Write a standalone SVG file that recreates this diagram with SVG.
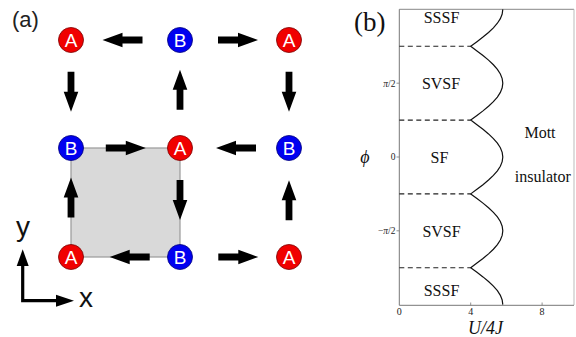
<svg xmlns="http://www.w3.org/2000/svg" xmlns:xlink="http://www.w3.org/1999/xlink" width="576" height="337" viewBox="0 0 576 337">
<style>
.na{fill:#f00000;stroke:#7a0000;stroke-width:0.8}
.nb{fill:#0000f0;stroke:#00007a;stroke-width:0.8}
.lt{font-family:"Liberation Sans",Arial,sans-serif;font-size:19px;fill:#fff;text-anchor:middle}
.ph{font-family:"Liberation Serif","Times New Roman",serif;font-size:16px;fill:#111;text-anchor:middle}
.tk{font-family:"Liberation Serif","Times New Roman",serif;font-size:10px;fill:#222;text-anchor:middle}
.tkl{font-family:"Liberation Serif","Times New Roman",serif;font-size:9.5px;fill:#222;text-anchor:end}
</style>
<defs>
<path id="arr" d="M-20,-3.4 L0,-3.4 L0,-7.3 L20,0 L0,7.3 L0,3.4 L-20,3.4 Z" fill="#000"/>
</defs>
<rect width="576" height="337" fill="#fff"/>
<text x="12" y="27" font-family="Liberation Sans,Arial,sans-serif" font-size="22" fill="#222">(a)</text>
<rect x="71" y="148" width="109" height="109" fill="#d9d9d9" stroke="#999" stroke-width="1.2"/>
<g id="connectors">
<use xlink:href="#arr" transform="translate(122.5,40) rotate(180)"/>
<use xlink:href="#arr" transform="translate(238,40)"/>
<use xlink:href="#arr" transform="translate(71,91.7) rotate(90)"/>
<use xlink:href="#arr" transform="translate(180,89.7) rotate(-90)"/>
<use xlink:href="#arr" transform="translate(289,91.7) rotate(90)"/>
<use xlink:href="#arr" transform="translate(125.8,148)"/>
<use xlink:href="#arr" transform="translate(236,148) rotate(180)"/>
<use xlink:href="#arr" transform="translate(71,197.5) rotate(-90)"/>
<use xlink:href="#arr" transform="translate(180,200) rotate(90)"/>
<use xlink:href="#arr" transform="translate(289,200.3) rotate(-90)"/>
<use xlink:href="#arr" transform="translate(129.7,257) rotate(180)"/>
<use xlink:href="#arr" transform="translate(238.3,257)"/>
</g>
<g id="n1"><circle class="na" cx="71" cy="40" r="12.5"/><text class="lt" x="71" y="46.8">A</text></g>
<g id="n2"><circle class="nb" cx="180" cy="40" r="12.5"/><text class="lt" x="180" y="46.8">B</text></g>
<g id="n3"><circle class="na" cx="289" cy="40" r="12.5"/><text class="lt" x="289" y="46.8">A</text></g>
<g id="n4"><circle class="nb" cx="71" cy="148" r="12.5"/><text class="lt" x="71" y="154.8">B</text></g>
<g id="n5"><circle class="na" cx="180" cy="148" r="12.5"/><text class="lt" x="180" y="154.8">A</text></g>
<g id="n6"><circle class="nb" cx="289" cy="148" r="12.5"/><text class="lt" x="289" y="154.8">B</text></g>
<g id="n7"><circle class="na" cx="71" cy="257" r="12.5"/><text class="lt" x="71" y="263.8">A</text></g>
<g id="n8"><circle class="nb" cx="180" cy="257" r="12.5"/><text class="lt" x="180" y="263.8">B</text></g>
<g id="n9"><circle class="na" cx="289" cy="257" r="12.5"/><text class="lt" x="289" y="263.8">A</text></g>
<g id="axes">
<path d="M22.7,264 L22.7,300.7 L58,300.7" fill="none" stroke="#000" stroke-width="3.2"/>
<polygon points="22.7,249.3 16.7,266 28.7,266" fill="#000"/>
<polygon points="74,300.7 56,294.7 56,306.7" fill="#000"/>
<text x="23" y="236" font-family="Liberation Sans,Arial,sans-serif" font-size="28" fill="#111" text-anchor="middle">y</text>
<text x="86" y="307" font-family="Liberation Sans,Arial,sans-serif" font-size="28" fill="#111" text-anchor="middle">x</text>
</g>
<text x="354" y="31" font-family="Liberation Serif,Times New Roman,serif" font-size="27" fill="#111">(b)</text>
<line x1="399.3" y1="9.3" x2="574" y2="9.3" stroke="#888" stroke-width="1"/>
<line x1="574" y1="9.3" x2="574" y2="305" stroke="#bbb" stroke-width="1"/>
<line x1="399.3" y1="9.3" x2="399.3" y2="305.3" stroke="#777" stroke-width="1"/>
<line x1="399.3" y1="305.3" x2="574" y2="305.3" stroke="#777" stroke-width="1"/>
<g stroke="#777" stroke-width="0.8">
<line x1="396.5" y1="83.2" x2="399.3" y2="83.2"/>
<line x1="396.5" y1="157" x2="399.3" y2="157"/>
<line x1="396.5" y1="230.8" x2="399.3" y2="230.8"/>
<line x1="470.7" y1="305.3" x2="470.7" y2="302.5"/>
<line x1="542.1" y1="305.3" x2="542.1" y2="302.5"/>
</g>
<text class="tkl" x="395.5" y="86.5"><tspan font-style="italic">π</tspan>/2</text>
<text class="tkl" x="395.5" y="160.3">0</text>
<text class="tkl" x="395.5" y="234">−<tspan font-style="italic">π</tspan>/2</text>
<text class="tk" x="399.3" y="315">0</text>
<text class="tk" x="470.7" y="315">4</text>
<text class="tk" x="542.1" y="315">8</text>
<text x="365" y="163" font-family="Liberation Serif,Times New Roman,serif" font-size="18" font-style="italic" fill="#111" text-anchor="middle">ϕ</text>
<text x="485.5" y="334" font-family="Liberation Serif,Times New Roman,serif" font-size="18" font-style="italic" fill="#111" text-anchor="middle">U/4J</text>
<g stroke="#222" stroke-width="1.1" stroke-dasharray="5,3.5">
<line x1="399.3" y1="46.3" x2="470.7" y2="46.3"/>
<line x1="399.3" y1="120.1" x2="470.7" y2="120.1"/>
<line x1="399.3" y1="193.9" x2="470.7" y2="193.9"/>
<line x1="399.3" y1="267.7" x2="470.7" y2="267.7"/>
</g>
<path fill="none" stroke="#111" stroke-width="1.2" d="M502.8,9.4 L502.18,14.01 L500.36,18.62 L497.39,23.24 L493.4,27.85 L488.53,32.46 L482.98,37.07 L476.96,41.68 L470.7,46.3 L476.96,50.91 L482.98,55.52 L488.53,60.13 L493.4,64.74 L497.39,69.36 L500.36,73.97 L502.18,78.58 L502.8,83.19 L502.18,87.8 L500.36,92.42 L497.39,97.03 L493.4,101.64 L488.53,106.25 L482.98,110.86 L476.96,115.48 L470.7,120.09 L476.96,124.7 L482.98,129.31 L488.53,133.92 L493.4,138.54 L497.39,143.15 L500.36,147.76 L502.18,152.37 L502.8,156.98 L502.18,161.6 L500.36,166.21 L497.39,170.82 L493.4,175.43 L488.53,180.04 L482.98,184.66 L476.96,189.27 L470.7,193.88 L476.96,198.49 L482.98,203.1 L488.53,207.72 L493.4,212.33 L497.39,216.94 L500.36,221.55 L502.18,226.16 L502.8,230.78 L502.18,235.39 L500.36,240 L497.39,244.61 L493.4,249.22 L488.53,253.84 L482.98,258.45 L476.96,263.06 L470.7,267.67 L476.96,272.28 L482.98,276.9 L488.53,281.51 L493.4,286.12 L497.39,290.73 L500.36,295.34 L502.18,299.96 L502.8,304.57"/>
<text class="ph" x="441.5" y="23">SSSF</text>
<text class="ph" x="441" y="89">SVSF</text>
<text class="ph" x="439.5" y="163">SF</text>
<text class="ph" x="441.5" y="237">SVSF</text>
<text class="ph" x="441.5" y="296">SSSF</text>
<text class="ph" x="540" y="138">Mott</text>
<text class="ph" x="542.8" y="182">insulator</text>
</svg>
